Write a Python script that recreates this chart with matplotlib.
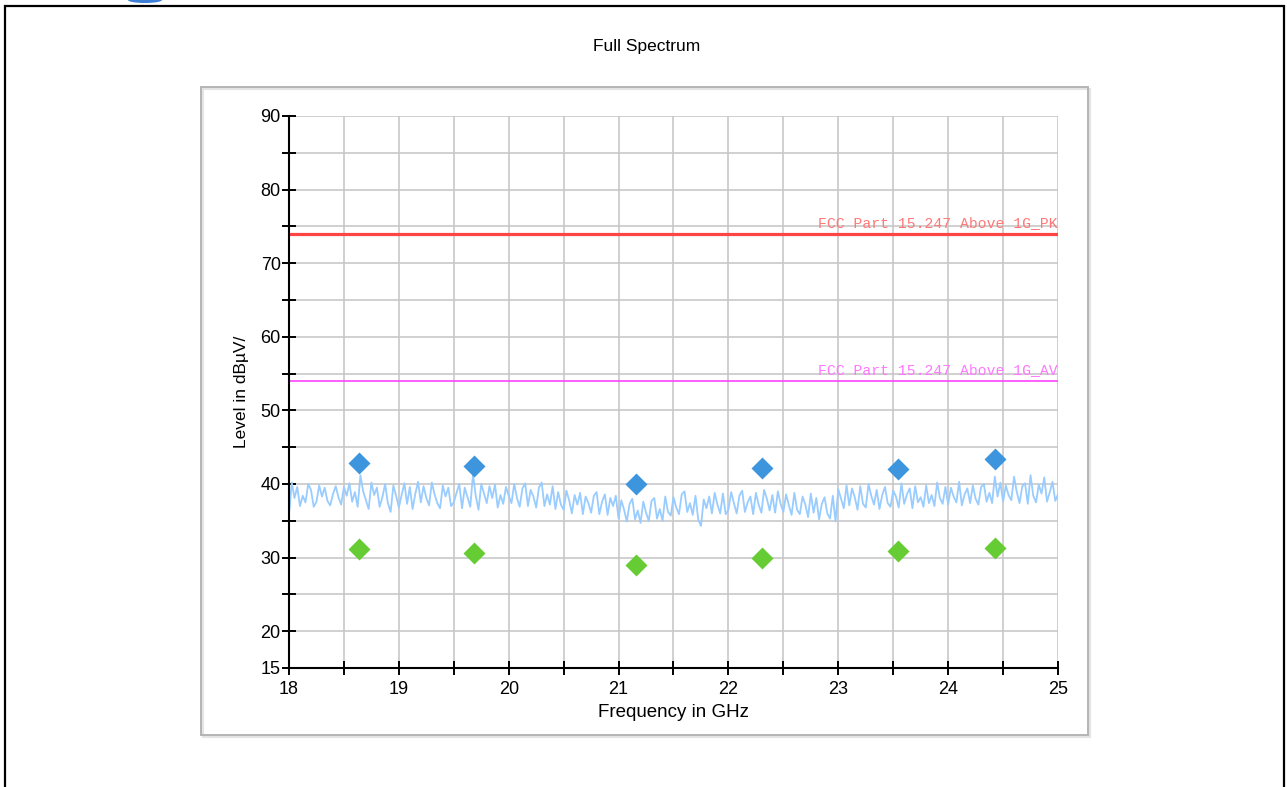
import numpy as np
import matplotlib
matplotlib.use('Agg')
import matplotlib.pyplot as plt
from matplotlib.patches import Rectangle, Ellipse

# trace levels, one row per 0.5 GHz, step 0.025 GHz
trace_rows = [
    [35.8, 40.2, 38.1, 39.6, 37.0, 38.4, 37.5, 40.0, 39.2, 36.9, 37.6, 39.8, 38.3, 39.5, 37.7, 37.1, 38.6, 39.7, 38.2, 37.2],
    [39.6, 38.4, 40.1, 37.6, 38.9, 36.9, 41.2, 39.0, 37.8, 36.6, 40.2, 38.5, 39.5, 36.9, 38.2, 40.0, 37.4, 36.2, 39.8, 38.4],
    [36.8, 38.5, 40.1, 37.3, 39.6, 36.6, 38.7, 40.3, 37.5, 39.7, 38.1, 37.1, 40.2, 38.6, 37.4, 36.7, 39.8, 38.3, 39.5, 37.0],
    [37.5, 38.8, 40.0, 36.7, 39.5, 38.2, 36.9, 41.3, 38.4, 36.5, 40.0, 38.7, 37.4, 39.7, 38.1, 39.9, 36.8, 38.5, 37.3, 39.6],
    [38.4, 37.4, 40.0, 38.1, 36.9, 39.4, 40.1, 37.0, 39.2, 38.3, 36.8, 39.5, 40.2, 37.0, 38.6, 37.2, 39.7, 36.6, 38.9, 37.2],
    [36.5, 39.1, 37.8, 36.0, 38.5, 37.2, 38.8, 35.9, 38.3, 37.4, 36.1, 38.4, 38.9, 35.9, 37.6, 38.6, 35.8, 38.1, 37.0, 38.4],
    [35.3, 37.8, 36.5, 34.9, 37.3, 38.0, 35.2, 36.4, 34.7, 37.6, 36.1, 35.0, 37.7, 38.1, 35.3, 36.6, 35.0, 38.3, 36.2, 35.7],
    [38.2, 36.8, 35.9, 38.6, 39.0, 36.2, 37.4, 35.8, 38.4, 35.2, 34.3, 37.9, 36.7, 38.3, 36.0, 38.8, 37.2, 36.0, 38.7, 35.9],
    [36.5, 38.9, 37.4, 36.0, 38.4, 39.1, 36.2, 37.5, 38.3, 35.9, 38.8, 37.2, 36.1, 39.2, 38.0, 36.4, 38.5, 36.1, 39.0, 37.3],
    [36.2, 38.6, 37.1, 35.8, 38.8, 36.5, 35.9, 38.3, 37.2, 35.5, 38.7, 36.1, 38.1, 35.2, 37.3, 38.2, 36.0, 35.3, 38.4, 34.9],
    [39.3, 38.0, 36.7, 39.8, 37.1, 39.4, 38.2, 36.5, 39.7, 37.3, 36.8, 40.0, 38.4, 37.2, 39.2, 36.6, 38.5, 39.6, 37.4, 36.9],
    [39.1, 38.3, 36.8, 40.1, 37.3, 38.6, 39.4, 36.7, 39.7, 37.5, 38.2, 36.9, 39.8, 37.4, 38.5, 37.0, 40.2, 38.1, 37.3, 39.6],
    [37.2, 39.5, 38.3, 37.5, 40.3, 37.1, 38.6, 39.4, 37.4, 39.8, 38.0, 37.2, 39.6, 40.0, 37.6, 38.8, 37.4, 41.0, 38.3, 40.2],
    [37.6, 39.8, 38.5, 37.8, 41.0, 38.9, 37.4, 39.7, 40.1, 37.3, 41.2, 38.4, 37.5, 39.9, 38.7, 40.9, 37.6, 38.9, 40.3, 37.7],
    [38.6],
]
f_start = 18.0
f_step = 0.025

# final measurements
meas_freq = [18.636, 19.682, 21.155, 22.309, 23.545, 24.427]
meas_pk = [42.85, 42.45, 40.0, 42.2, 42.0, 43.4]
meas_av = [31.2, 30.6, 29.0, 29.9, 30.9, 31.3]

limit_pk = 74
limit_av = 54
limit_pk_name = "FCC Part 15.247 Above 1G_PK"
limit_av_name = "FCC Part 15.247 Above 1G_AV"

trace = [v for row in trace_rows for v in row]
freq = f_start + f_step * np.arange(len(trace))

W, H = 1287, 787
fig = plt.figure(figsize=(W/100, H/100), dpi=100)

# outer black frame + inner grey frame
fig.patches.append(Rectangle((5/W, -0.05), 1279/W, 1.05 - 6/H, transform=fig.transFigure,
                             fill=False, edgecolor='black', lw=1.6))
fig.patches.append(Rectangle((203/W, 1-737/H), 887/W, 648/H, transform=fig.transFigure,
                             fill=False, edgecolor='#e4e4e4', lw=1.5))
fig.patches.append(Rectangle((201/W, 1-735/H), 887/W, 648/H, transform=fig.transFigure,
                             fill=False, edgecolor='#b4b4b4', lw=1.4))
fig.patches.append(Ellipse((145/W, 1.0), 34/W, 6/H, transform=fig.transFigure,
                           facecolor='#3d7fd6', edgecolor='none'))

fig.text(647/W, 1-47/H, "Full Spectrum", ha='center', va='center', fontsize=12.5,
         family='Liberation Sans')

ax = fig.add_axes([289/W, 1-668/H, 769/W, 552/H])
ax.set_xlim(18, 25)
ax.set_ylim(15, 90)

ax.plot(freq, trace, color='#99ccff', lw=1.3, zorder=3)
ax.axhline(limit_pk, color='#ff4444', lw=2.3, zorder=4)
ax.axhline(limit_av, color='#ff44ff', lw=1.2, zorder=4)
ax.text(25, limit_pk + 0.5, limit_pk_name, ha='right', va='bottom', color='#ff7777',
        fontsize=10.6, family='Liberation Mono', zorder=5)
ax.text(25, limit_av + 0.5, limit_av_name, ha='right', va='bottom', color='#ff77ff',
        fontsize=10.6, family='Liberation Mono', zorder=5)

ax.plot(meas_freq, meas_pk, ls='none', marker='D', ms=11.5, color='#3d96dd', mec='none', zorder=6)
ax.plot(meas_freq, meas_av, ls='none', marker='D', ms=11.5, color='#66cc33', mec='none', zorder=6)

yt = np.arange(15, 91, 5)
ax.set_yticks(yt)
ax.set_yticklabels([str(v) if (v % 10 == 0 or v == 15) else '' for v in yt])
xt = np.arange(18, 25.01, 0.5)
ax.set_xticks(xt)
ax.set_xticklabels([str(int(v)) if v == int(v) else '' for v in xt])
ax.grid(True, color='#c8c8c8', lw=1.2, zorder=0)
ax.set_axisbelow(True)

for s in ['top', 'right']:
    ax.spines[s].set_visible(False)
for s in ['left', 'bottom']:
    ax.spines[s].set_linewidth(1.5)
    ax.spines[s].set_zorder(7)
ax.tick_params(direction='inout', length=10, width=1.4, labelsize=13, pad=1)
ax.tick_params(axis='x', pad=4)
for lab in ax.get_xticklabels() + ax.get_yticklabels():
    lab.set_family('Liberation Sans')

ax.set_xlabel("Frequency in GHz", fontsize=13.5, family='Liberation Sans', labelpad=5)
ax.set_ylabel("Level in dBµV/", fontsize=12.5, family='Liberation Sans', labelpad=8)

fig.savefig('out.png', dpi=100)
